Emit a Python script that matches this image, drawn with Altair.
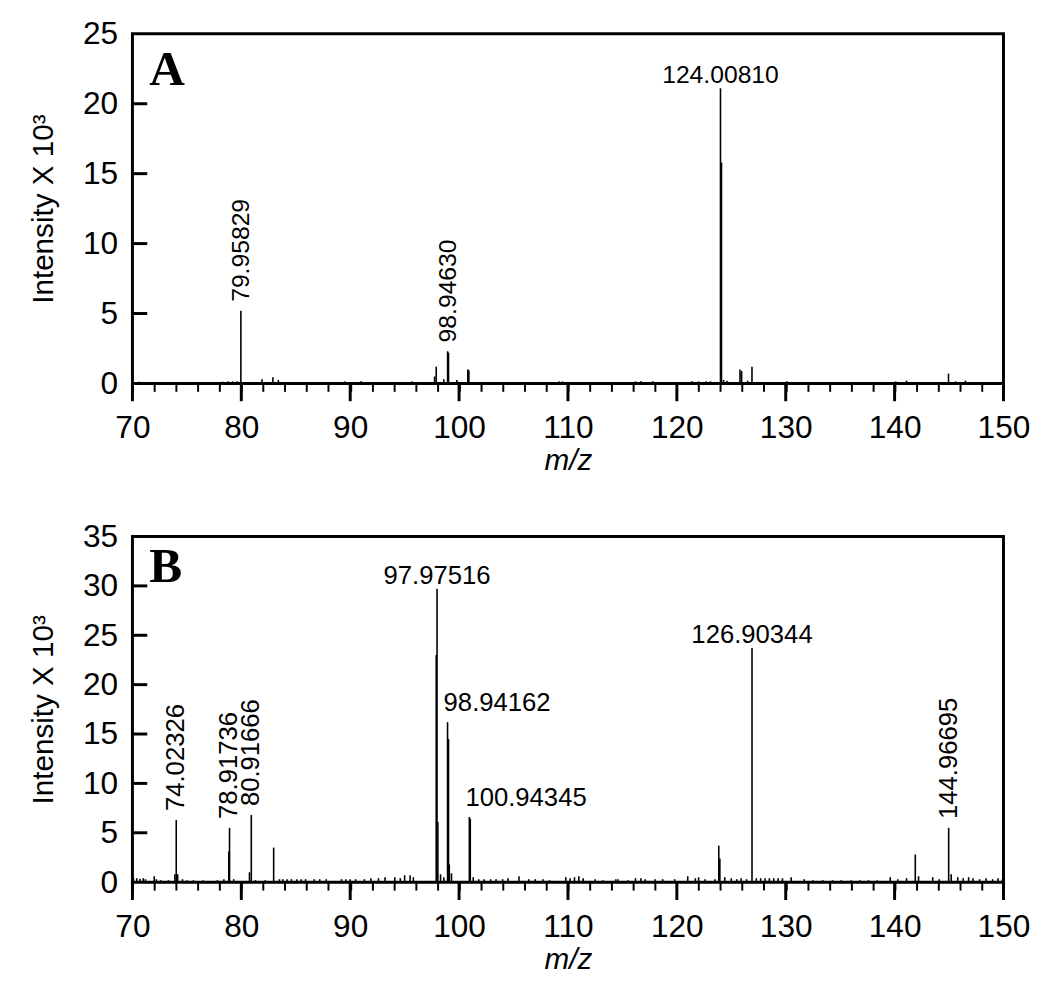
import altair as alt
import pandas as pd

# ---------------- Panel A data (m/z, intensity x10^3) ----------------
A_mz = [70.2, 70.6, 71.0, 71.3, 77.9, 78.3, 78.8, 79.2, 79.6, 79.95829, 80.3,
        81.9, 82.9, 83.4, 84.9, 88.6, 89.5, 91.0, 91.8, 95.7, 97.75, 97.9,
        98.6, 98.9463, 99.03, 99.8, 100.8, 100.9, 107.1, 109.2, 109.5, 116.2,
        116.7, 117.8, 121.4, 122.0, 122.7, 123.1, 124.0081, 124.1, 124.3,
        124.6, 125.5, 125.8, 125.95, 126.5, 126.9, 128.5, 130.1, 130.5, 138.5,
        140.1, 141.1, 143.1, 144.95, 145.6, 146.5, 149.0]
A_int = [0.1, 0.12, 0.1, 0.08, 0.1, 0.12, 0.15, 0.15, 0.15, 5.2, 0.1,
         0.3, 0.45, 0.25, 0.1, 0.1, 0.15, 0.15, 0.1, 0.15, 0.5, 1.2,
         0.3, 2.3, 2.2, 0.25, 1.0, 0.95, 0.1, 0.15, 0.15, 0.15,
         0.15, 0.15, 0.15, 0.15, 0.15, 0.15, 21.1, 15.8, 0.25,
         0.2, 0.1, 1.0, 0.9, 0.2, 1.2, 0.1, 0.15, 0.1, 0.1,
         0.15, 0.2, 0.1, 0.7, 0.15, 0.2, 0.1]
A_rot_mz = [79.95829, 98.94630]
A_rot_int = [5.2, 2.3]
A_hc_mz = [124.00810]
A_hc_int = [21.1]
A_hl_mz = []
A_hl_int = []
A_yticks = [0, 5, 10, 15, 20, 25]

# ---------------- Panel B data ----------------
B_mz = [70.1, 70.4, 70.7, 71.0, 71.2, 72.0, 72.2, 72.6, 73.3, 73.9, 74.02326,
        74.15, 74.6, 75.0, 75.6, 76.5, 77.8, 78.4, 78.85, 78.91736, 79.3,
        80.75, 80.91666, 81.3, 82.2, 82.97, 83.5, 83.8, 84.2, 84.6, 85.1,
        85.5, 85.9, 86.7, 87.2, 87.8, 89.2, 89.6, 90.0, 90.5, 91.3, 91.9,
        92.6, 93.2, 94.1, 94.6, 95.0, 95.5, 95.8, 97.9, 97.97516, 98.05,
        98.3, 98.6, 98.94162, 99.03, 99.1, 99.3, 100.94345, 101.03, 101.3,
        101.8, 102.3, 102.9, 103.4, 104.0, 104.5, 105.5, 106.4, 107.0, 107.7,
        108.3, 109.8, 110.2, 110.6, 111.0, 111.4, 112.5, 113.2, 114.4, 114.6,
        115.5, 116.2, 116.7, 117.1, 118.0, 118.7, 119.8, 121.0, 121.7, 122.0,
        122.6, 123.5, 123.85, 123.95, 124.4, 125.0, 125.5, 125.9, 126.4,
        126.90344, 127.3, 127.7, 128.1, 128.5, 128.9, 129.3, 129.7, 130.5,
        131.7, 132.5, 133.4, 134.3, 135.1, 136.0, 136.8, 137.6, 138.4, 139.6,
        140.3, 141.1, 141.9, 142.2, 143.5, 144.1, 144.96695, 145.2, 145.8,
        146.3, 146.8, 147.2, 147.8, 148.4, 149.0, 149.5, 149.9]
B_int = [0.4, 0.4, 0.35, 0.4, 0.3, 0.6, 0.3, 0.2, 0.2, 0.8, 6.3,
         0.8, 0.3, 0.2, 0.2, 0.2, 0.2, 0.3, 3.1, 5.5, 0.3,
         1.0, 6.8, 0.2, 0.2, 3.5, 0.3, 0.3, 0.3, 0.3, 0.3,
         0.3, 0.3, 0.3, 0.3, 0.3, 0.3, 0.3, 0.3, 0.3, 0.3, 0.4,
         0.4, 0.5, 0.5, 0.4, 0.7, 0.7, 0.5, 23.0, 29.7, 6.1,
         0.8, 0.5, 16.2, 14.5, 1.8, 0.9, 6.6, 6.4, 0.5,
         0.3, 0.3, 0.3, 0.3, 0.3, 0.4, 0.6, 0.3, 0.3, 0.3,
         0.2, 0.5, 0.4, 0.5, 0.6, 0.4, 0.3, 0.2, 0.3, 0.3,
         0.2, 0.4, 0.4, 0.3, 0.3, 0.3, 0.3, 0.6, 0.4, 0.5,
         0.3, 0.3, 3.7, 2.4, 0.5, 0.4, 0.3, 0.4, 0.3,
         23.7, 0.4, 0.4, 0.4, 0.4, 0.4, 0.4, 0.4, 0.5,
         0.3, 0.2, 0.2, 0.2, 0.2, 0.2, 0.2, 0.2, 0.2, 0.5,
         0.3, 0.4, 2.8, 0.6, 0.5, 0.3, 5.5, 0.8, 0.5,
         0.4, 0.5, 0.4, 0.3, 0.4, 0.3, 0.4, 0.3]
B_rot_mz = [74.02326, 78.91736, 80.91666, 144.96695]
B_rot_int = [6.3, 5.5, 6.8, 5.5]
B_hc_mz = [97.97516, 126.90344]
B_hc_int = [29.7, 23.7]
B_hl_mz = [98.94162, 100.94345]
B_hl_int = [16.2, 6.6]
B_yticks = [0, 5, 10, 15, 20, 25, 30, 35]

X_TICKS_MINOR = list(range(70, 151, 2))
X_TICKS_MAJOR = list(range(70, 151, 10))

SANS = "Liberation Sans"
SERIF = "Liberation Serif"


def panel(mz, inten, rot_mz, rot_int, hc_mz, hc_int, hl_mz, hl_int,
          yticks, letter, h, letter_y, lab_size):
    ymax = yticks[-1]
    x_enc = alt.X(
        "mz:Q",
        scale=alt.Scale(domain=[70, 150], nice=False, zero=False),
        axis=alt.Axis(
            values=X_TICKS_MINOR, tickSize=8, tickWidth=2, tickColor="black",
            domain=False, grid=False,
            labelExpr="datum.value % 10 === 0 ? datum.label : ''",
            labelFont=SANS, labelFontSize=32, labelColor="black",
            labelPadding=22, labelFlush=False, labelOverlap=False,
            title="m/z", titleFont=SANS, titleFontSize=30,
            titleFontStyle="italic", titleFontWeight="normal",
            titleColor="black", titlePadding=2,
        ),
    )
    y_enc = alt.Y(
        "inten:Q",
        scale=alt.Scale(domain=[0, ymax], nice=False, zero=True),
        axis=alt.Axis(
            values=yticks, ticks=False, domain=False, grid=False,
            labelFont=SANS, labelFontSize=32, labelColor="black",
            labelPadding=15, labelFlush=False,
            title="Intensity X 10³", titleFont=SANS, titleFontSize=30,
            titleFontWeight="normal", titleColor="black", titlePadding=24,
        ),
    )

    peaks = pd.DataFrame({"mz": mz, "inten": inten})
    peaks["base"] = 0.0
    rules = alt.Chart(peaks).mark_rule(color="black", strokeWidth=1.6).encode(
        x=x_enc, y=y_enc, y2=alt.Y2("base:Q"))

    majors = alt.Chart(pd.DataFrame({"mz": X_TICKS_MAJOR})).mark_rule(
        color="black", strokeWidth=3).encode(
        x=x_enc, y=alt.value(h), y2=alt.value(h + 18))

    yt = alt.Chart(pd.DataFrame({"inten": yticks[1:-1]})).mark_rule(
        color="black", strokeWidth=3).encode(
        y=y_enc, x=alt.value(0), x2=alt.value(15))

    layers = [rules, majors, yt]

    if rot_mz:
        d = pd.DataFrame({"mz": rot_mz, "inten": rot_int,
                          "txt": [f"{v:.5f}" for v in rot_mz]})
        layers.append(alt.Chart(d).mark_text(
            angle=270, align="left", baseline="middle", dx=9,
            font=SANS, fontSize=lab_size, color="black").encode(
            x=x_enc, y=y_enc, text="txt:N"))
    if hc_mz:
        d = pd.DataFrame({"mz": hc_mz, "inten": hc_int,
                          "txt": [f"{v:.5f}" for v in hc_mz]})
        layers.append(alt.Chart(d).mark_text(
            align="center", baseline="alphabetic", dy=-5,
            font=SANS, fontSize=lab_size, color="black").encode(
            x=x_enc, y=y_enc, text="txt:N"))
    if hl_mz:
        d = pd.DataFrame({"mz": hl_mz, "inten": hl_int,
                          "txt": [f"{v:.5f}" for v in hl_mz]})
        layers.append(alt.Chart(d).mark_text(
            align="left", baseline="alphabetic", dx=-4, dy=-11,
            font=SANS, fontSize=lab_size, color="black").encode(
            x=x_enc, y=y_enc, text="txt:N"))

    lt = alt.Chart(pd.DataFrame({"t": [letter]})).mark_text(
        align="left", baseline="alphabetic", font=SERIF, fontWeight="bold",
        fontSize=50, color="black").encode(
        x=alt.value(17), y=alt.value(letter_y), text="t:N")
    layers.append(lt)

    return alt.layer(*layers).properties(width=882, height=h)


pA = panel(A_mz, A_int, A_rot_mz, A_rot_int, A_hc_mz, A_hc_int, A_hl_mz,
           A_hl_int, A_yticks, "A", 354, 52, 25)
pB = panel(B_mz, B_int, B_rot_mz, B_rot_int, B_hc_mz, B_hc_int, B_hl_mz,
           B_hl_int, B_yticks, "B", 350, 46, 26)

chart = alt.vconcat(pA, pB, spacing=42).configure_view(
    stroke="black", strokeWidth=3).properties(
    padding={"left": 19, "top": 2, "right": 10, "bottom": 5},
    background="white")

chart.save("out.html", embed_options={"renderer": "svg", "actions": False})
